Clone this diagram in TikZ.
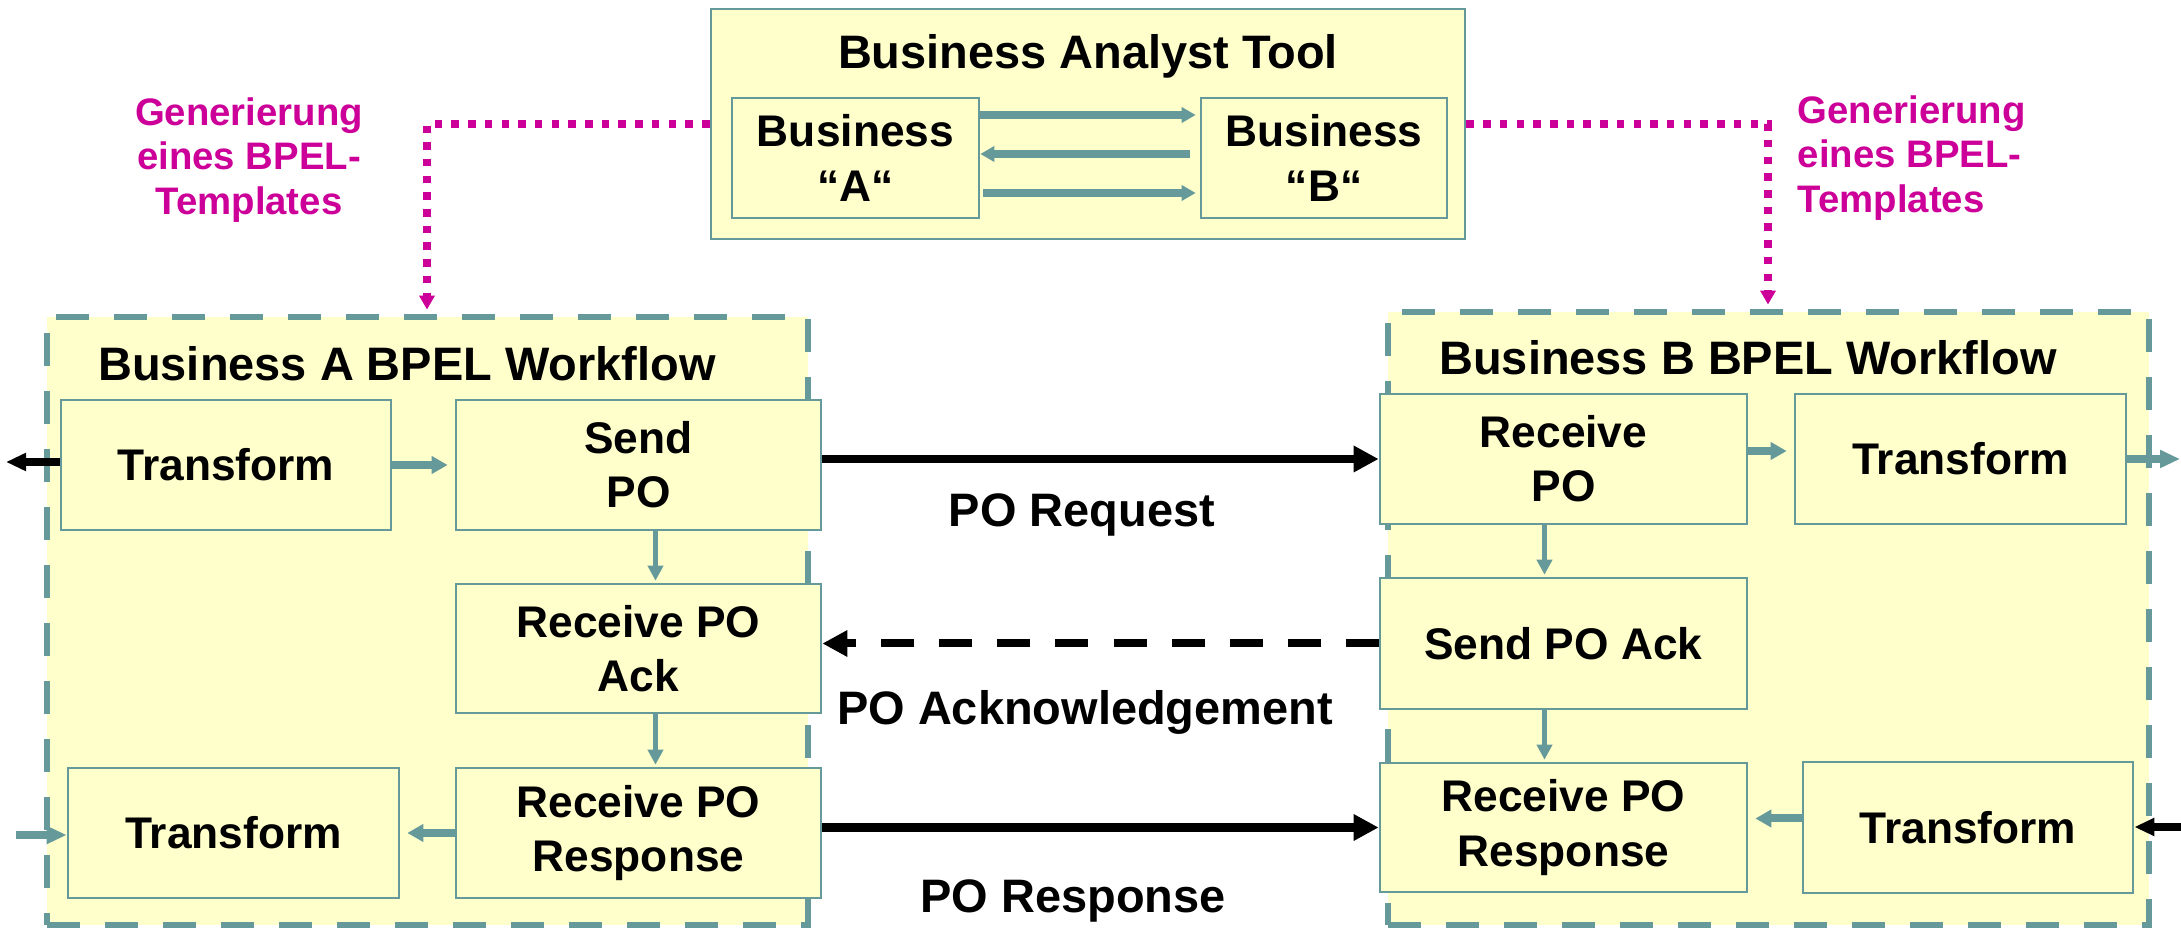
\documentclass[tikz,border=0pt]{standalone}
\usepackage{fontspec}
\setmainfont{Liberation Sans}
\usetikzlibrary{arrows.meta,calc}
\definecolor{bpteal}{HTML}{669999}
\definecolor{bpfill}{HTML}{FFFFCC}
\definecolor{bpmag}{HTML}{CC0099}
\begin{document}
\begin{tikzpicture}[x=0.01cm,y=-0.01cm,
  box/.style={draw=bpteal, line width=0.025cm, fill=bpfill, align=center, inner sep=0pt,
    font=\fontsize{12.6}{15.4}\selectfont\bfseries},
  workflow/.style={draw=bpteal, line width=0.065cm, dash pattern=on 0.33cm off 0.25cm, fill=bpfill},
  heading/.style={inner sep=0pt, font=\fontsize{13.35}{16}\selectfont\bfseries},
  note/.style={inner sep=0pt, text=bpmag, font=\fontsize{10.9}{12.6}\selectfont\bfseries},
  flowh/.style={draw=bpteal, line width=0.08cm, -{Triangle[length=0.16cm,width=0.17cm]}, shorten >=0.07cm},
  flowv/.style={draw=bpteal, line width=0.05cm, -{Triangle[length=0.15cm,width=0.15cm]}, shorten >=0.02cm},
  toolarrow/.style={draw=bpteal, line width=0.075cm, -{Triangle[length=0.14cm,width=0.15cm]}},
  msg/.style={draw=black, line width=0.08cm, -{Triangle[length=0.25cm,width=0.25cm]}},
  edgearrow/.style={line width=0.075cm, -{Triangle[length=0.2cm,width=0.17cm]}},
  gen/.style={draw=bpmag, line width=0.075cm, dash pattern=on 0.075cm off 0.092cm,
    -{Triangle[length=0.14cm,width=0.15cm]}, shorten >=0.04cm}
]
\useasboundingbox (0,0) rectangle (2181,928);

% Business Analyst Tool
\node[box, minimum width=7.54cm, minimum height=2.30cm] (tool) at (1088,124) {};
\node[heading] (tooltitle) at (1088,56) {Business Analyst Tool};
\node[box, minimum width=2.47cm, minimum height=1.20cm] (bizA) at (855.5,158) {Business\\“A“};
\node[box, minimum width=2.46cm, minimum height=1.20cm] (bizB) at (1324,158) {Business\\“B“};
\draw[toolarrow, shorten >=0.04cm] ($(bizA.east)+(0,-43)$) -- ($(bizB.west)+(0,-43)$);
\draw[toolarrow, shorten <=0.1cm] ($(bizB.west)+(0,-4)$) -- ($(bizA.east)+(0,-4)$);
\draw[toolarrow, shorten >=0.04cm, shorten <=0.03cm] ($(bizA.east)+(0,35)$) -- ($(bizB.west)+(0,35)$);

% Workflow containers
\node[workflow, minimum width=7.61cm, minimum height=6.08cm] (wfA) at (427.5,621) {};
\node[workflow, minimum width=7.61cm, minimum height=6.13cm] (wfB) at (1768.5,618.5) {};
\node[heading] (wfAtitle) at (407,364) {Business A BPEL Workflow};
\node[heading] (wfBtitle) at (1748,358) {Business B BPEL Workflow};

% Template generation
\coordinate (gl) at (427,124);
\coordinate (gr) at (1768,124);
\draw[gen] (tool.west |- gl) -- (gl) -- (gl |- wfA.north);
\draw[gen] (tool.east |- gr) -- (gr) -- (gr |- wfB.north);
\node[note, align=center] (noteA) at (249,160) {Generierung\\eines BPEL-\\Templates};
\node[note, align=left, anchor=west] (noteB) at (1797,158) {Generierung\\eines BPEL-\\Templates};

% Business A activities
\node[box, minimum width=3.30cm, minimum height=1.30cm] (ta1) at (226,465) {Transform};
\node[box, minimum width=3.65cm, minimum height=1.30cm] (sendpo) at (638.5,465) {Send\\PO};
\node[box, minimum width=3.65cm, minimum height=1.29cm] (recack) at (638.5,648.5) {Receive PO\\Ack};
\node[box, minimum width=3.65cm, minimum height=1.30cm] (recresp) at (638.5,833) {Receive PO\\Response};
\node[box, minimum width=3.31cm, minimum height=1.30cm] (ta2) at (233.5,833) {Transform};

% Business B activities
\node[box, minimum width=3.67cm, minimum height=1.30cm] (recpo) at (1563.5,459) {Receive\\PO};
\node[box, minimum width=3.31cm, minimum height=1.30cm] (tb1) at (1960.5,459) {Transform};
\node[box, minimum width=3.67cm, minimum height=1.31cm] (sendack) at (1563.5,643.5) {Send PO Ack};
\node[box, minimum width=3.67cm, minimum height=1.29cm] (recrespB) at (1563.5,827.5) {Receive PO\\Response};
\node[box, minimum width=3.30cm, minimum height=1.31cm] (tb2) at (1968,827.5) {Transform};

% Internal flows, Business A
\draw[flowh] (ta1.east) -- (sendpo.west);
\draw[flowv] ($(sendpo.south)+(17,0)$) -- ($(recack.north)+(17,0)$);
\draw[flowv] ($(recack.south)+(17,0)$) -- ($(recresp.north)+(17,0)$);
\draw[flowh] (recresp.west) -- (ta2.east);
\coordinate (outA) at (6,462);
\coordinate (inA) at (16,835);
\draw[edgearrow, draw=black] (ta1.west |- outA) -- (outA);
\draw[edgearrow, draw=bpteal] (inA) -- (ta2.west |- inA);

% Internal flows, Business B
\draw[flowh] ($(recpo.east)+(0,-8)$) -- ($(tb1.west)+(0,-8)$);
\draw[flowv] ($(recpo.south)+(-19,0)$) -- ($(sendack.north)+(-19,0)$);
\draw[flowv] ($(sendack.south)+(-19,0)$) -- ($(recrespB.north)+(-19,0)$);
\draw[flowh] ($(tb2.west)+(0,-9)$) -- ($(recrespB.east)+(0,-9)$);
\coordinate (outB) at (2180,459);
\coordinate (inB) at (2181,827);
\draw[edgearrow, draw=bpteal] (tb1.east |- outB) -- (outB);
\draw[edgearrow, draw=black] (inB) -- (tb2.east |- inB);

% Messages between the partners
\draw[msg] (sendpo.east |- recpo.west) -- (recpo.west);
\draw[msg, dash pattern=on 0.33cm off 0.25cm] (sendack.west) -- (recack.east |- sendack.west);
\draw[msg] (recresp.east |- recrespB.west) -- (recrespB.west);
\node[heading] (lblreq) at (1082,515) {PO Request};
\node[heading] (lblack) at (1085,712) {PO Acknowledgement};
\node[heading] (lblresp) at (1073,901) {PO Response};
\end{tikzpicture}
\end{document}
